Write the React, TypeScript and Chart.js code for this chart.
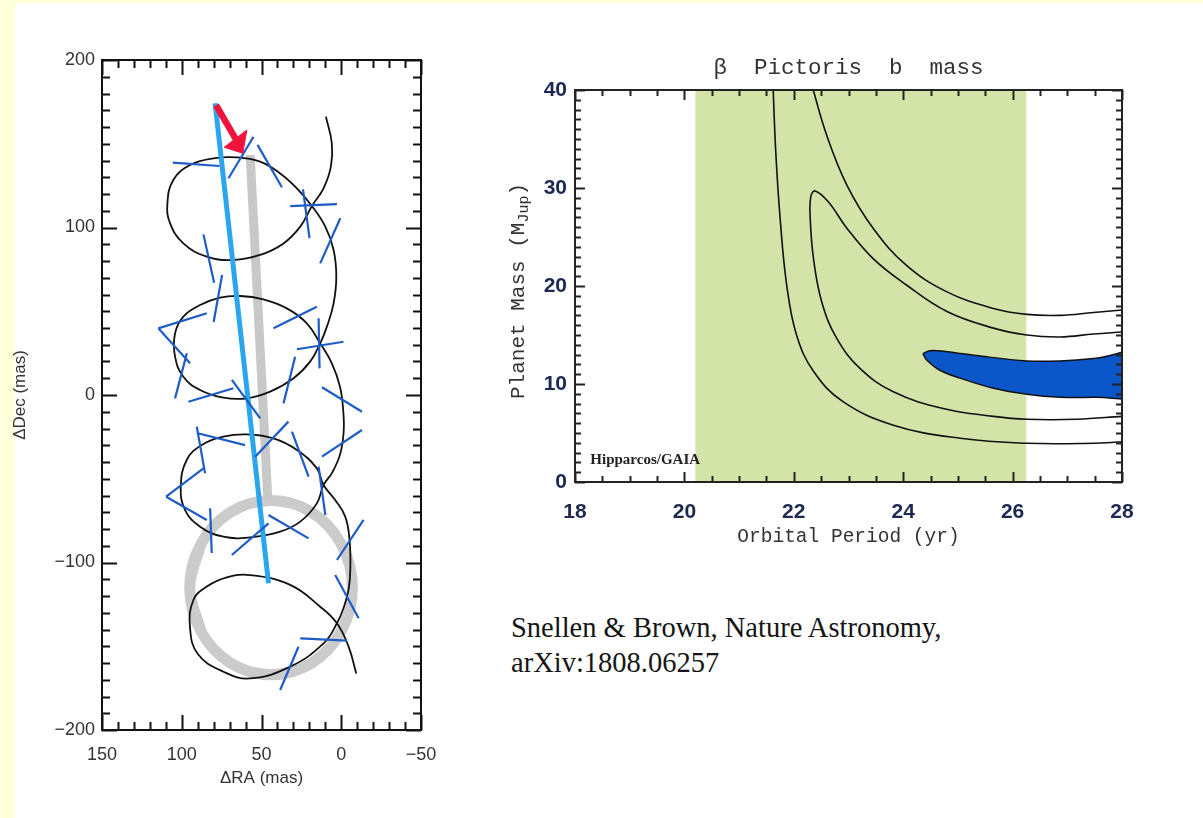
import React, { useEffect, useRef } from 'react';
import { Chart, registerables } from 'chart.js';
Chart.register(...registerables);

// ---------------- Left panel: astrometric track (mas) ----------------
const trackRA = [9.6, 5.9, 6.5, 11.1, 18.4, 25.7, 36.2, 50.9, 67.6, 84.3, 99.0, 107.3, 109.0, 105.3, 94.8, 80.1, 65.5, 50.9, 38.3, 27.8,
  18.4, 10.0, 4.8, 3.1, 4.8, 9.0, 13.2, 19.5, 29.9, 44.6, 59.2, 73.9, 88.5, 99.0, 104.2, 104.2, 99.0, 88.5, 76.0, 63.4,
  48.8, 34.1, 21.6, 13.2, 5.9, 0.8, -1.3, -1.5, 0.6, 5.5, 11.1, 15.3, 25.7, 38.3, 57.1, 73.9, 88.5, 97.9, 100.6, 96.9,
  87.5, 73.9, 59.2, 42.5, 27.8, 15.3, 11.1, 3.8, -2.5, -5.2, -5.7, -4.8, -1.5, 2.7, 11.1, 32.0, 57.1, 73.9, 89.8, 94.8,
  92.7, 84.3, 71.7, 57.1, 32.0, 13.2, 2.7, -4.6, -9.4];
const trackDec = [166.2, 150.2, 136.3, 123.4, 112.8, 100.5, 90.5, 83.6, 80.6, 82.6, 90.5, 102.5, 114.4, 128.4, 137.3, 141.3, 141.9, 139.3, 132.3, 123.4,
  112.8, 100.5, 86.6, 70.6, 54.7, 40.8, 30.8, 19.9, 10.0, 2.0, -2.0, -1.6, 3.0, 10.9, 22.9, 36.8, 46.8, 53.7, 58.1, 59.1,
  57.1, 51.7, 42.8, 30.8, 18.9, 5.0, -10.0, -22.0, -35.0, -46.0, -53.7, -64.7, -75.6, -81.6, -85.0, -84.6, -78.6, -68.7, -54.7, -38.8,
  -29.9, -24.9, -23.5, -25.9, -32.8, -43.8, -53.7, -62.7, -72.6, -86.6, -102.5, -115.0, -127.0, -136.3, -148.3, -162.2, -169.2, -165.2, -154.8, -139.0,
  -122.4, -114.4, -108.9, -107.5, -113.4, -126.4, -136.3, -150.2, -166.2];

// error bars: [RA1, Dec1, RA2, Dec2]
const errorBars: number[][] = [
  [105.6, 138.7, 76.4, 136.7], [70.7, 129.4, 55.0, 154.2], [52.5, 149.3, 37.2, 124.0], [32.0, 112.8, 2.7, 113.9],
  [24.0, 122.8, 19.9, 93.6], [13.2, 78.6, 0.6, 105.5], [86.4, 95.9, 79.7, 67.0], [74.7, 71.6, 80.0, 43.6],
  [114.7, 39.8, 84.3, 48.8], [114.7, 39.8, 94.8, 18.9], [96.8, 24.9, 104.2, -2.0], [95.8, -4.0, 67.6, 4.0],
  [68.6, 9.0, 50.8, -13.9], [42.5, 39.8, 15.3, 52.7], [27.8, 27.3, -1.4, 31.8], [14.2, 45.8, 13.6, 15.9],
  [36.2, -5.0, 28.9, 22.9], [12.1, 4.6, -13.0, -10.0], [12.1, -36.8, -13.0, -20.9], [90.6, -18.9, 85.4, -46.7],
  [90.6, -22.7, 60.3, -29.9], [54.0, -36.8, 33.1, -15.9], [30.9, -21.9, 20.5, -48.8], [109.8, -60.7, 86.4, -43.8],
  [109.8, -60.7, 84.3, -74.6], [82.2, -67.6, 81.2, -94.3], [68.6, -95.5, 45.6, -76.6], [45.6, -71.6, 20.5, -85.6],
  [14.2, -42.8, 10.0, -71.6], [2.7, -98.5, -14.0, -74.6], [3.8, -107.5, -10.9, -133.3], [25.7, -145.3, -3.6, -146.7],
  [26.8, -150.3, 38.3, -176.1],
];

const grayLineRA = [57.1, 46.0];
const grayLineDec = [143.3, -62.7];
const grayRingRA = [88, 95, 88, 69.5, 44, 18.5, 0, -7, 0, 18.5, 44, 69.5, 88, 95, 88];
const grayRingDec = [-141, -115, -89, -70, -63, -70, -89, -115, -141, -160, -167, -160, -141, -115, -89];
const blueLineRA = [79.1, 45.6];
const blueLineDec = [174.2, -112.4];
const arrowShaftRA = [78.5, 66.3];
const arrowShaftDec = [173.0, 153.0];
const arrowHeadRA = [73.4, 59.2, 61.7, 73.4];
const arrowHeadDec = [147.9, 158.2, 144.3, 147.9];
const raTicks = [150, 100, 50, 0, -50];
const decTicks = [200, 100, 0, -100, -200];

// ---------------- Right panel: mass vs period ----------------
const periodTicks = [18, 20, 22, 24, 26, 28];
const massTicks = [0, 10, 20, 30, 40];
const gaiaBandP = [20.2, 20.2, 26.25, 26.25, 20.2];
const gaiaBandM = [0, 40, 40, 0, 0];
const curveAP = [21.62, 21.67, 21.75, 21.87, 22.05, 22.36, 22.9, 23.82, 25.04, 26.26, 27.48, 28.0];
const curveAM = [40.5, 33.7, 26.9, 20.1, 15.0, 11.3, 8.2, 5.8, 4.46, 3.95, 3.95, 4.1];
const curveBP = [22.33, 22.6, 22.97, 23.45, 24.06, 24.8, 25.65, 26.26, 26.87, 27.48, 28.0];
const curveBM = [40.5, 35.4, 30.3, 25.9, 22.1, 19.4, 17.7, 17.1, 17.0, 17.3, 17.55];
const curveCP = [28.0, 27.48, 26.87, 26.26, 25.65, 24.8, 24.06, 23.45, 22.97, 22.63, 22.39, 22.31, 22.3, 22.36, 22.51, 22.78, 23.21, 23.82, 24.73, 25.65, 26.26, 27.17, 28.0];
const curveCM = [15.3, 15.1, 14.8, 15.0, 15.7, 17.4, 20.1, 22.8, 25.9, 28.6, 29.7, 29.1, 26.9, 22.8, 18.4, 14.7, 11.6, 9.2, 7.5, 6.7, 6.4, 6.4, 6.7];
const bestP = [24.36, 24.49, 24.8, 25.34, 26.26, 26.87, 27.48, 28.6, 28.6, 27.48, 26.87, 26.26, 25.65, 25.04, 24.67, 24.43, 24.36];
const bestM = [13.1, 13.4, 13.3, 12.9, 12.35, 12.35, 12.6, 13.4, 8.9, 8.64, 8.64, 8.95, 9.56, 10.6, 11.4, 12.45, 13.1];

const pts = (xs: number[], ys: number[]) => xs.map((x, i) => ({ x, y: ys[i] }));
const fmtMinus = (v: any) => (Number(v) < 0 ? '\u2212' + Math.abs(Number(v)) : String(v));
const SANS = '"Liberation Sans", Arial, sans-serif';
const MONO = '"Liberation Mono", "Courier New", monospace';

const lineDs = (data: any[], color: string, width: number, order: number, extra: any = {}) => ({
  data, showLine: true, borderColor: color, backgroundColor: color, borderWidth: width,
  pointRadius: 0, pointHoverRadius: 0, tension: 0, fill: false, order, spanGaps: false,
  borderCapStyle: 'butt', ...extra,
});

const framePlugin = {
  id: 'frame',
  afterDatasetsDraw(chart: any, _a: any, o: any) {
    const { ctx, chartArea: a } = chart;
    const xs = chart.scales.x, ys = chart.scales.y;
    ctx.save();
    ctx.strokeStyle = o.color;
    ctx.lineWidth = o.width;
    ctx.beginPath();
    const isMaj = (v: number, m: number) => Math.abs(v / m - Math.round(v / m)) < 1e-6;
    const nx = Math.round((xs.max - xs.min) / o.xMinor);
    for (let i = 0; i <= nx; i++) {
      const v = xs.min + i * o.xMinor;
      const len = isMaj(v, o.xMajor) ? o.majorLen : o.minorLen;
      const p = Math.round(xs.getPixelForValue(v)) + 0.5;
      ctx.moveTo(p, a.bottom); ctx.lineTo(p, a.bottom - len);
      ctx.moveTo(p, a.top); ctx.lineTo(p, a.top + len);
    }
    const ny = Math.round((ys.max - ys.min) / o.yMinor);
    for (let i = 0; i <= ny; i++) {
      const v = ys.min + i * o.yMinor;
      const len = isMaj(v, o.yMajor) ? o.majorLen : o.minorLen;
      const p = Math.round(ys.getPixelForValue(v)) + 0.5;
      ctx.moveTo(a.left, p); ctx.lineTo(a.left + len, p);
      ctx.moveTo(a.right, p); ctx.lineTo(a.right - len, p);
    }
    ctx.stroke();
    ctx.strokeRect(a.left, a.top, a.right - a.left, a.bottom - a.top);
    ctx.restore();
  },
};

const rightTextPlugin = {
  id: 'rightText',
  afterDraw(chart: any) {
    const { ctx, chartArea: a } = chart;
    const xs = chart.scales.x, ys = chart.scales.y;
    ctx.save();
    // Hipparcos/GAIA label
    ctx.fillStyle = '#222';
    ctx.font = 'bold 15px "Liberation Serif", serif';
    ctx.textBaseline = 'middle';
    ctx.textAlign = 'left';
    ctx.fillText('Hipparcos/GAIA', xs.getPixelForValue(18.28), ys.getPixelForValue(2.2));
    // Y title with subscript
    const main = '21px ' + MONO;
    const sub = '15px ' + MONO;
    ctx.font = main;
    const t1 = 'Planet Mass (M';
    const w1 = ctx.measureText(t1).width;
    const w3 = ctx.measureText(')').width;
    ctx.font = sub;
    const w2 = ctx.measureText('Jup').width;
    const total = w1 + w2 + w3;
    ctx.translate(38, (a.top + a.bottom) / 2 + 5);
    ctx.rotate(-Math.PI / 2);
    ctx.fillStyle = '#333';
    ctx.textBaseline = 'middle';
    ctx.font = main;
    ctx.fillText(t1, -total / 2, 0);
    ctx.font = sub;
    ctx.fillText('Jup', -total / 2 + w1, 6);
    ctx.font = main;
    ctx.fillText(')', -total / 2 + w1 + w2, 0);
    ctx.restore();
  },
};

export default function App() {
  const leftRef = useRef<HTMLCanvasElement>(null);
  const rightRef = useRef<HTMLCanvasElement>(null);

  useEffect(() => {
    document.body.style.margin = '0';
    const errData = errorBars.flatMap(([a, b, c, d]) => [{ x: a, y: b }, { x: c, y: d }, { x: c, y: null as any }]);
    const left = new Chart(leftRef.current!, {
      type: 'scatter',
      data: {
        datasets: [
          lineDs(pts(grayRingRA, grayRingDec), '#CBCBCB', 11, 9, { tension: 0.35 }),
          lineDs(pts(grayLineRA, grayLineDec), '#C8C8C8', 9, 8),
          lineDs(pts(trackRA, trackDec), '#111111', 1.8, 7, { tension: 0.42 }),
          lineDs(pts(blueLineRA, blueLineDec), '#2BA6EE', 5, 6),
          lineDs(errData, '#1E5CC8', 2.2, 5),
          lineDs(pts(arrowShaftRA, arrowShaftDec), '#F0143C', 6.5, 2),
          lineDs(pts(arrowHeadRA, arrowHeadDec), '#F0143C', 1, 1, { fill: 'shape', backgroundColor: '#F0143C' }),
        ] as any,
      },
      options: {
        responsive: false, animation: false, devicePixelRatio: 1, events: [],
        layout: { padding: { left: 0, top: 60, right: 49, bottom: 0 } },
        plugins: {
          legend: { display: false }, tooltip: { enabled: false },
          frame: { color: '#111', width: 2, xMinor: 10, xMajor: 50, yMinor: 10, yMajor: 100, majorLen: 15, minorLen: 8 },
        } as any,
        scales: {
          x: {
            type: 'linear', min: -50, max: 150, reverse: true,
            afterFit: (s: any) => { s.height = 88; },
            afterBuildTicks: (s: any) => { s.ticks = raTicks.map((v) => ({ value: v })); },
            grid: { display: false, drawTicks: false }, border: { display: false },
            ticks: { padding: 14, color: '#333', font: { family: SANS, size: 18 }, callback: fmtMinus, maxRotation: 0, autoSkip: false },
            title: { display: true, text: '\u0394RA (mas)', color: '#333', font: { family: SANS, size: 17 }, padding: { top: 0, bottom: 29 } },
          },
          y: {
            type: 'linear', min: -200, max: 200,
            afterFit: (s: any) => { s.width = 102; },
            afterBuildTicks: (s: any) => { s.ticks = decTicks.map((v) => ({ value: v })); },
            grid: { display: false, drawTicks: false }, border: { display: false },
            ticks: { padding: 7, color: '#333', font: { family: SANS, size: 18 }, callback: fmtMinus, autoSkip: false },
            title: { display: true, text: '\u0394Dec (mas)', color: '#333', font: { family: SANS, size: 17 }, padding: { top: 10, bottom: 0 } },
          },
        } as any,
      },
      plugins: [framePlugin],
    });

    const right = new Chart(rightRef.current!, {
      type: 'scatter',
      data: {
        datasets: [
          lineDs(pts(gaiaBandP, gaiaBandM), 'rgba(0,0,0,0)', 0, 10, { fill: 'shape', backgroundColor: '#D4E4A9' }),
          lineDs(pts(bestP, bestM), '#111111', 1.5, 5, { fill: 'shape', backgroundColor: '#0B57C9', tension: 0.35 }),
          lineDs(pts(curveAP, curveAM), '#111111', 1.6, 2, { tension: 0.4 }),
          lineDs(pts(curveBP, curveBM), '#111111', 1.6, 2, { tension: 0.4 }),
          lineDs(pts(curveCP, curveCM), '#111111', 1.6, 2, { tension: 0.4 }),
        ] as any,
      },
      options: {
        responsive: false, animation: false, devicePixelRatio: 1, events: [],
        layout: { padding: { left: 0, top: 0, right: 81, bottom: 0 } },
        plugins: {
          legend: { display: false }, tooltip: { enabled: false },
          title: {
            display: true, text: '\u03B2  Pictoris  b  mass', color: '#333', fullSize: false,
            font: { family: MONO, size: 22.5, weight: 'normal' }, padding: { top: 55, bottom: 8 },
          },
          frame: { color: '#222', width: 2, xMinor: 0.5, xMajor: 2, yMinor: 1, yMajor: 10, majorLen: 10, minorLen: 6 },
        } as any,
        scales: {
          x: {
            type: 'linear', min: 18, max: 28,
            afterFit: (s: any) => { s.height = 78; },
            afterBuildTicks: (s: any) => { s.ticks = periodTicks.map((v) => ({ value: v })); },
            grid: { display: false, drawTicks: false }, border: { display: false },
            ticks: { padding: 18, color: '#1C2951', font: { family: SANS, size: 21, weight: 'bold' }, maxRotation: 0, autoSkip: false },
            title: { display: true, text: 'Orbital Period (yr)', color: '#333', font: { family: MONO, size: 19.5 }, padding: { top: 0, bottom: 11 } },
          },
          y: {
            type: 'linear', min: 0, max: 40,
            afterFit: (s: any) => { s.width = 95; },
            afterBuildTicks: (s: any) => { s.ticks = massTicks.map((v) => ({ value: v })); },
            grid: { display: false, drawTicks: false }, border: { display: false },
            ticks: { padding: 8, color: '#1C2951', font: { family: SANS, size: 21, weight: 'bold' }, autoSkip: false },
            title: { display: false },
          },
        } as any,
      },
      plugins: [framePlugin, rightTextPlugin],
    });

    return () => { left.destroy(); right.destroy(); };
  }, []);

  return (
    <div style={{ position: 'relative', width: 1203, height: 818, background: '#FFFFDA', overflow: 'hidden' }}>
      <div style={{ position: 'absolute', left: 15, top: 3, width: 1188, height: 815, background: '#FFFFFF' }} />
      <canvas ref={leftRef} width={470} height={818} style={{ position: 'absolute', left: 0, top: 0, width: 470, height: 818 }} />
      <canvas ref={rightRef} width={723} height={560} style={{ position: 'absolute', left: 480, top: 0, width: 723, height: 560 }} />
      <div style={{ position: 'absolute', left: 511, top: 610, fontFamily: '"Liberation Serif", "Times New Roman", serif', fontSize: 28.5, lineHeight: '35px', color: '#151515', whiteSpace: 'pre' }}>
        {'Snellen & Brown, Nature Astronomy,\narXiv:1808.06257'}
      </div>
    </div>
  );
}
